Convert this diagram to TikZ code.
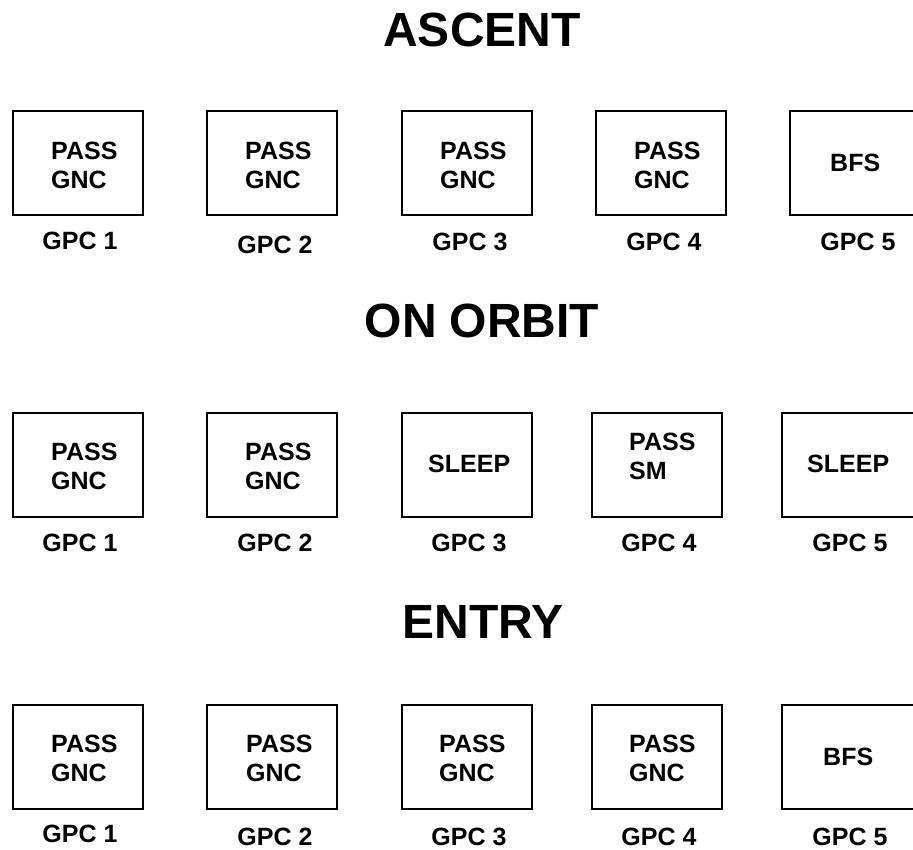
\documentclass[tikz,border=0pt]{standalone}
\usepackage{fontspec}
\setmainfont{Liberation Sans}

\begin{document}
\begin{tikzpicture}[x=1pt,y=-1pt,
  gpc/.style={draw,line width=1.9pt,minimum width=130pt,minimum height=104pt,inner sep=0pt,anchor=north west},
  modetxt/.style={anchor=north west,inner sep=0pt,align=left,font=\fontsize{25}{29}\selectfont\bfseries},
  gpcname/.style={anchor=base,inner sep=0pt,font=\fontsize{25}{29}\selectfont\bfseries},
  phase/.style={anchor=base,inner sep=0pt,font=\fontsize{48}{52}\selectfont\bfseries}]
\useasboundingbox (0,0) rectangle (913,849);

% ascent
\node[phase] (ascent) at (482,46) {ASCENT};

\node[gpc] (a1) at (12,110) {};
\node[gpc] (a2) at (206,110) {};
\node[gpc] (a3) at (401,110) {};
\node[gpc] (a4) at (595,110) {};
\node[gpc,minimum width=140pt] (a5) at (789,110) {};

\node[modetxt] (a1t) at (51,142) {PASS\\GNC};
\node[modetxt] (a2t) at (245,142) {PASS\\GNC};
\node[modetxt] (a3t) at (440,142) {PASS\\GNC};
\node[modetxt] (a4t) at (634,142) {PASS\\GNC};
\node[modetxt] (a5t) at (830,154) {BFS};

\node[gpcname] (a1l) at (80,249) {GPC 1};
\node[gpcname] (a2l) at (275,253) {GPC 2};
\node[gpcname] (a3l) at (470,250) {GPC 3};
\node[gpcname] (a4l) at (664,250) {GPC 4};
\node[gpcname] (a5l) at (858,250) {GPC 5};

% on orbit
\node[phase] (orbit) at (482,337) {ON ORBIT};

\node[gpc] (o1) at (12,412) {};
\node[gpc] (o2) at (206,412) {};
\node[gpc] (o3) at (401,412) {};
\node[gpc] (o4) at (591,412) {};
\node[gpc,minimum width=140pt] (o5) at (781,412) {};

\node[modetxt] (o1t) at (51,443) {PASS\\GNC};
\node[modetxt] (o2t) at (245,443) {PASS\\GNC};
\node[modetxt] (o3t) at (428,455) {SLEEP};
\node[modetxt] (o4t) at (629,433) {PASS\\SM};
\node[modetxt] (o5t) at (807,455) {SLEEP};

\node[gpcname] (o1l) at (80,551) {GPC 1};
\node[gpcname] (o2l) at (275,551) {GPC 2};
\node[gpcname] (o3l) at (469,551) {GPC 3};
\node[gpcname] (o4l) at (659,551) {GPC 4};
\node[gpcname] (o5l) at (850,551) {GPC 5};

% entry
\node[phase] (entry) at (483,638) {ENTRY};

\node[gpc] (e1) at (12,704) {};
\node[gpc] (e2) at (206,704) {};
\node[gpc] (e3) at (401,704) {};
\node[gpc] (e4) at (591,704) {};
\node[gpc,minimum width=140pt] (e5) at (781,704) {};

\node[modetxt] (e1t) at (51,735) {PASS\\GNC};
\node[modetxt] (e2t) at (246,735) {PASS\\GNC};
\node[modetxt] (e3t) at (439,735) {PASS\\GNC};
\node[modetxt] (e4t) at (629,735) {PASS\\GNC};
\node[modetxt] (e5t) at (823,748) {BFS};

\node[gpcname] (e1l) at (80,842) {GPC 1};
\node[gpcname] (e2l) at (275,845) {GPC 2};
\node[gpcname] (e3l) at (469,845) {GPC 3};
\node[gpcname] (e4l) at (659,845) {GPC 4};
\node[gpcname] (e5l) at (850,845) {GPC 5};

\end{tikzpicture}
\end{document}
